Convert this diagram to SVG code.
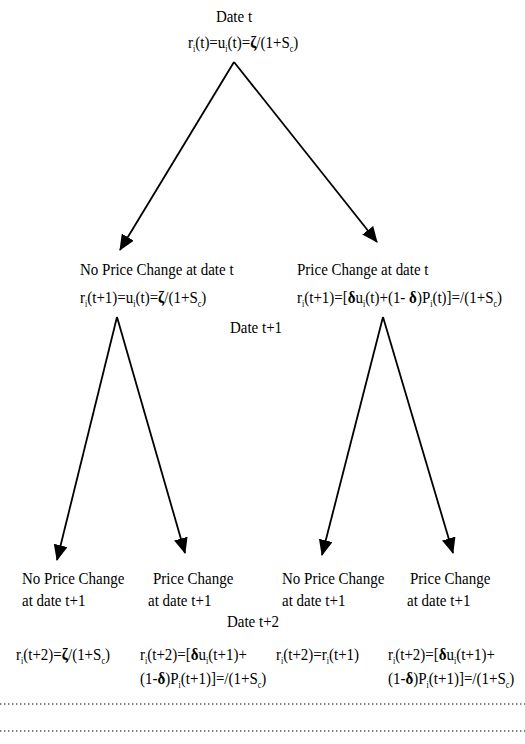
<svg xmlns="http://www.w3.org/2000/svg" width="525" height="744" viewBox="0 0 525 744">
<style>
text{font-family:"Liberation Serif","Times New Roman",serif;font-size:15px;fill:#000}
.s{font-size:8px}
.b{font-weight:bold}
.ln{stroke:#000;stroke-width:1.8;fill:none}
.dot{stroke:#555;stroke-width:1.4;stroke-dasharray:1.4 2.6}
</style>
<defs>
<marker id="ah" markerUnits="userSpaceOnUse" markerWidth="16" markerHeight="14" refX="15" refY="7" orient="auto">
<path d="M0,0 L16,7 L0,14 Z" fill="#000"/>
</marker>
</defs>
<rect width="525" height="744" fill="#fff"/>
<g id="connectors">
<line class="ln" x1="234" y1="62" x2="120" y2="250" marker-end="url(#ah)"/>
<line class="ln" x1="234" y1="62" x2="377" y2="242" marker-end="url(#ah)"/>
<line class="ln" x1="117" y1="317" x2="57" y2="560" marker-end="url(#ah)"/>
<line class="ln" x1="117" y1="317" x2="185" y2="553" marker-end="url(#ah)"/>
<line class="ln" x1="383" y1="317" x2="322" y2="555" marker-end="url(#ah)"/>
<line class="ln" x1="383" y1="317" x2="453" y2="553" marker-end="url(#ah)"/>
</g>
<g id="root">
<text transform="translate(234 22) scale(1 1.18)" text-anchor="middle">Date t</text>
<text transform="translate(188 48) scale(1 1.18)">r<tspan class="s" dy="3">i</tspan><tspan dy="-3">(t)=u</tspan><tspan class="s" dy="3">i</tspan><tspan dy="-3">(t)=</tspan><tspan class="b">ζ</tspan>/(1+S<tspan class="s" dy="3">c</tspan><tspan dy="-3">)</tspan></text>
</g>
<g id="no-change-t">
<text transform="translate(80 275) scale(1 1.18)">No Price Change at date t</text>
<text transform="translate(80 303) scale(1 1.18)">r<tspan class="s" dy="3">i</tspan><tspan dy="-3">(t+1)=u</tspan><tspan class="s" dy="3">i</tspan><tspan dy="-3">(t)=</tspan><tspan class="b">ζ</tspan>/(1+S<tspan class="s" dy="3">c</tspan><tspan dy="-3">)</tspan></text>
</g>
<g id="change-t">
<text transform="translate(297 275) scale(1 1.18)">Price Change at date t</text>
<text transform="translate(297 303) scale(1 1.18)">r<tspan class="s" dy="3">i</tspan><tspan dy="-3">(t+1)=[</tspan><tspan class="b">δ</tspan>u<tspan class="s" dy="3">i</tspan><tspan dy="-3">(t)+(1- </tspan><tspan class="b">δ</tspan>)P<tspan class="s" dy="3">i</tspan><tspan dy="-3">(t)]=/(1+S</tspan><tspan class="s" dy="3">c</tspan><tspan dy="-3">)</tspan></text>
</g>
<g id="date-t1">
<text transform="translate(256 333) scale(1 1.18)" text-anchor="middle">Date t+1</text>
</g>
<g id="nc-nc">
<text transform="translate(22 584) scale(1 1.18)">No Price Change</text>
<text transform="translate(22 606) scale(1 1.18)">at date t+1</text>
<text transform="translate(16 660) scale(1 1.18)">r<tspan class="s" dy="3">i</tspan><tspan dy="-3">(t+2)=</tspan><tspan class="b">ζ</tspan>/(1+S<tspan class="s" dy="3">c</tspan><tspan dy="-3">)</tspan></text>
</g>
<g id="nc-c">
<text transform="translate(153 584) scale(1 1.18)">Price Change</text>
<text transform="translate(148 606) scale(1 1.18)">at date t+1</text>
<text transform="translate(140 660) scale(1 1.18)">r<tspan class="s" dy="3">i</tspan><tspan dy="-3">(t+2)=[</tspan><tspan class="b">δ</tspan>u<tspan class="s" dy="3">i</tspan><tspan dy="-3">(t+1)+</tspan></text>
<text transform="translate(140 684) scale(1 1.18)">(1-<tspan class="b">δ</tspan>)P<tspan class="s" dy="3">i</tspan><tspan dy="-3">(t+1)]=/(1+S</tspan><tspan class="s" dy="3">c</tspan><tspan dy="-3">)</tspan></text>
</g>
<g id="date-t2">
<text transform="translate(253 627) scale(1 1.18)" text-anchor="middle">Date t+2</text>
</g>
<g id="c-nc">
<text transform="translate(282 584) scale(1 1.18)">No Price Change</text>
<text transform="translate(282 606) scale(1 1.18)">at date t+1</text>
<text transform="translate(276 660) scale(1 1.18)">r<tspan class="s" dy="3">i</tspan><tspan dy="-3">(t+2)=r</tspan><tspan class="s" dy="3">i</tspan><tspan dy="-3">(t+1)</tspan></text>
</g>
<g id="c-c">
<text transform="translate(410 584) scale(1 1.18)">Price Change</text>
<text transform="translate(407 606) scale(1 1.18)">at date t+1</text>
<text transform="translate(388 660) scale(1 1.18)">r<tspan class="s" dy="3">i</tspan><tspan dy="-3">(t+2)=[</tspan><tspan class="b">δ</tspan>u<tspan class="s" dy="3">i</tspan><tspan dy="-3">(t+1)+</tspan></text>
<text transform="translate(388 684) scale(1 1.18)">(1-<tspan class="b">δ</tspan>)P<tspan class="s" dy="3">i</tspan><tspan dy="-3">(t+1)]=/(1+S</tspan><tspan class="s" dy="3">c</tspan><tspan dy="-3">)</tspan></text>
</g>
<g id="separators">
<line class="dot" x1="0" y1="704" x2="525" y2="704"/>
<line class="dot" x1="0" y1="731" x2="525" y2="731"/>
</g>
</svg>
